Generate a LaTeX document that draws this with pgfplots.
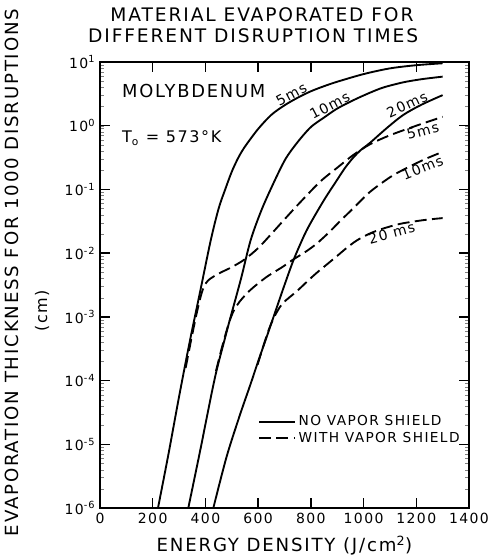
\documentclass[border=0pt]{standalone}
\usepackage{pgfplots}
\pgfplotsset{compat=1.18}
\usepackage{fontspec}
\setmainfont{DejaVu Sans}[LetterSpace=10]
\usetikzlibrary{calc}

\tikzset{shield/.style={line width=1.4pt, dash pattern=on 9pt off 4pt}}

\begin{document}
\begin{tikzpicture}
\begin{axis}[
  name=ax,
  scale only axis,
  width=276.75pt, height=334.5pt,
  xmin=0, xmax=1400,
  ymode=log, ymin=1e-6, ymax=10,
  xtick={0,200,...,1400},
  xticklabels={0,200,400,600,800,1000,1200,1400},
  ytick={1e-6,1e-5,1e-4,1e-3,1e-2,1e-1,1,10},
  yticklabels={10\textsuperscript{-6},10\textsuperscript{-5},10\textsuperscript{-4},10\textsuperscript{-3},10\textsuperscript{-2},10\textsuperscript{-1},10\textsuperscript{0},10\textsuperscript{1}},
  major tick length=7.5pt,
  every major tick/.append style={line width=1pt, black},
  axis line style={line width=1pt},
  ticklabel style={font=\fontsize{10.5}{12}\selectfont},
  legend cell align=left,
  legend image code/.code={\draw[#1] (0pt,0pt) -- (20pt,0pt); \path (0pt,0pt) -- (27pt,0pt);},
  legend style={draw=none, fill=none, inner sep=0pt, at={(0.428,0.175)}, anchor=west,
    font=\fontsize{10.3}{12}\selectfont, row sep=-1pt},
]
% no vapor shield, 5 ms
\addplot[black, line width=1.4pt, smooth] coordinates {
(220,1e-6) (260,7.1e-6) (300,5.6e-5) (340,4.0e-4) (380,2.5e-3) (420,1.58e-2)
(450,5.0e-2) (475,0.1) (500,0.19) (525,0.316) (550,0.47) (600,0.89) (650,1.48)
(700,2.09) (750,2.75) (800,3.47) (850,4.17) (900,4.9) (1000,6.46) (1100,7.94)
(1200,8.91) (1300,9.55)};
\addlegendentry{NO VAPOR SHIELD}
% with vapor shield, 5 ms
\addplot[black, shield, smooth] coordinates {
(325,1.58e-4) (345,4.17e-4) (365,1.05e-3) (382,2.09e-3) (395,3.02e-3) (410,3.72e-3)
(430,4.27e-3) (460,5.01e-3) (500,6.03e-3) (548,7.94e-3) (600,1.20e-2) (650,2.0e-2)
(700,3.39e-2) (760,6.31e-2) (835,0.132) (900,0.219) (961,0.347) (1025,0.513)
(1100,0.708) (1200,1.0) (1300,1.38)};
\addlegendentry{WITH VAPOR SHIELD}

% no vapor shield, 10 ms
\addplot[black, line width=1.4pt, smooth, forget plot] coordinates {
(335,1e-6) (380,7.94e-6) (421,5.62e-5) (443,1.48e-4) (470,3.98e-4) (493,9.12e-4)
(535,3.98e-3) (572,1.62e-2) (615,5.01e-2) (664,0.141) (700,0.282) (727,0.417)
(765,0.661) (803,0.977) (854,1.38) (900,1.86) (961,2.51) (1020,3.24) (1075,3.98)
(1150,4.79) (1220,5.37) (1300,5.89)};
% no vapor shield, 20 ms
\addplot[black, line width=1.4pt, smooth, forget plot] coordinates {
(430,1e-6) (480,6.31e-6) (530,2.82e-5) (570,8.51e-5) (600,2.0e-4) (632,4.79e-4)
(670,1.38e-3) (700,3.16e-3) (735,7.94e-3) (775,1.91e-2) (800,3.02e-2) (835,5.37e-2)
(860,7.94e-2) (898,0.138) (930,0.219) (961,0.316) (990,0.417) (1024,0.537)
(1090,0.933) (1151,1.48) (1220,2.14) (1300,3.02)};
% with vapor shield, 10 ms
\addplot[black, shield, smooth, forget plot] coordinates {
(440,1.41e-4) (460,3.02e-4) (478,5.62e-4) (492,8.71e-4) (508,1.26e-3) (530,1.74e-3)
(570,2.63e-3) (630,4.17e-3) (695,6.17e-3) (733,7.94e-3) (780,1.05e-2) (822,1.41e-2)
(870,2.14e-2) (910,3.16e-2) (960,5.01e-2) (1024,9.12e-2) (1100,0.155) (1151,0.204)
(1230,0.295) (1300,0.389)};
% with vapor shield, 20 ms
\addplot[black, shield, smooth, forget plot] coordinates {
(598,1.78e-4) (615,3.02e-4) (632,5.01e-4) (650,7.94e-4) (670,1.17e-3) (695,1.66e-3)
(746,2.51e-3) (790,3.72e-3) (822,4.90e-3) (860,6.61e-3) (898,8.91e-3) (935,1.20e-2)
(974,1.58e-2) (1020,2.0e-2) (1062,2.34e-2) (1110,2.69e-2) (1151,2.95e-2)
(1230,3.31e-2) (1300,3.55e-2)};

% curve labels
\begin{scope}[font=\fontsize{10.5}{12}\selectfont, inner sep=1pt]
\node[rotate=28, anchor=south] at (axis cs:738,2.5) {5ms};
\node[rotate=28, anchor=south] at (axis cs:884,1.68) {10ms};
\node[rotate=25, anchor=south] at (axis cs:1176,1.71) {20ms};
\node[rotate=15, anchor=north] at (axis cs:1218,1.06) {5ms};
\node[rotate=22, anchor=north] at (axis cs:1214,0.275) {10ms};
\node[rotate=15, anchor=north] at (axis cs:1100,0.0263) {20 ms};
\end{scope}

\node[anchor=base west, inner sep=0pt, font=\fontsize{13.4}{15}\selectfont] at (axis cs:83,2.73) {MOLYBDENUM};
\node[anchor=base west, inner sep=0pt, font=\fontsize{12}{14}\selectfont] at (axis cs:83,0.537) {T\textsubscript{o} = 573°K};
\end{axis}

% inward ticks on the frame, drawn after the axis
\foreach \i in {1,...,6} {
  \draw[black, line width=1pt] ($(ax.south west)+(\i*39.5357pt,0pt)$) -- ++(0pt,7.5pt);
  \draw[black, line width=1pt] ($(ax.north west)+(\i*39.5357pt,0pt)$) -- ++(0pt,-7.5pt);
}
\foreach \j in {1,...,6} {
  \draw[black, line width=1pt] ($(ax.south west)+(0pt,\j*47.7857pt)$) -- ++(7.5pt,0pt);
  \draw[black, line width=1pt] ($(ax.south east)+(0pt,\j*47.7857pt)$) -- ++(-7.5pt,0pt);
}

% title
\node[anchor=base, inner sep=0pt, font=\fontsize{14}{16}\selectfont] at ($(ax.north west)+(0.439*276.75pt,30pt)$) {MATERIAL EVAPORATED FOR};
\node[anchor=base, inner sep=0pt, font=\fontsize{14}{16}\selectfont] at ($(ax.north west)+(0.415*276.75pt,14.25pt)$) {DIFFERENT DISRUPTION TIMES};
% axis labels
\node[anchor=base, inner sep=0pt, font=\fontsize{13.6}{15}\selectfont] at ($(ax.south west)+(0.5*276.75pt,-33pt)$) {ENERGY DENSITY (J/cm\textsuperscript{2})};
\node[rotate=90, inner sep=0pt, font=\fontsize{13.6}{15}\selectfont] at ($(ax.south west)+(-66pt,0.528*334.5pt)$) {EVAPORATION THICKNESS FOR 1000 DISRUPTIONS};
\node[rotate=90, inner sep=0pt, font=\fontsize{12}{14}\selectfont] at ($(ax.south west)+(-43.5pt,0.442*334.5pt)$) {(cm)};

\path ($(ax.south west)+(-75pt,-39pt)$) -- ($(ax.north east)+(20.25pt,46.5pt)$);
\end{tikzpicture}
\end{document}
